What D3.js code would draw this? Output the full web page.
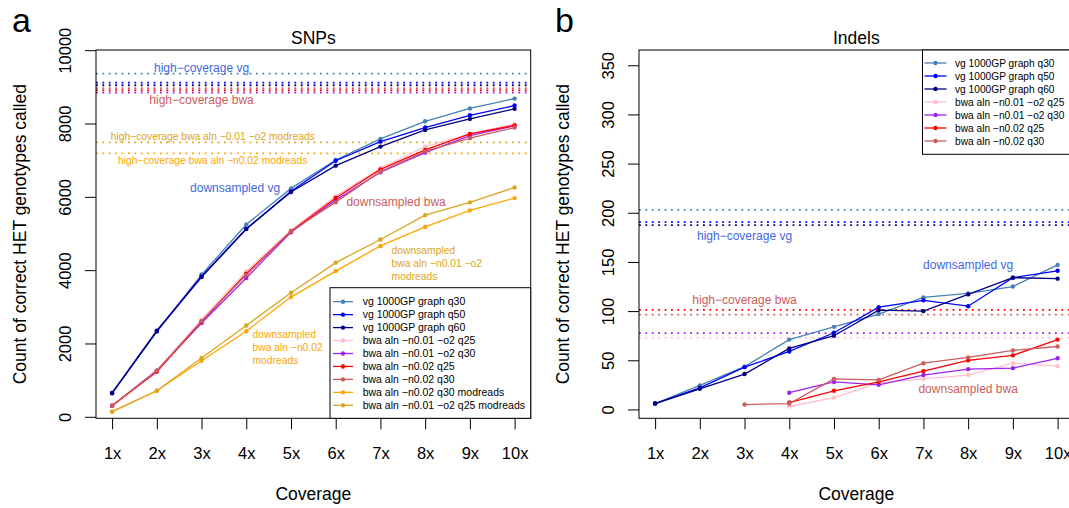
<!DOCTYPE html>
<html>
<head>
<meta charset="utf-8">
<script src="https://cdn.jsdelivr.net/npm/d3@7"></script>
<style>
  body { margin: 0; background: #fff; }
  svg text { font-family: "Liberation Sans", Arial, Helvetica, sans-serif; fill: #000; }
</style>
</head>
<body>
<svg id="chart" width="1069" height="508"></svg>
<script>
// --- DATA ---
const coverage = [1, 2, 3, 4, 5, 6, 7, 8, 9, 10];
const coverageLabels = ["1x", "2x", "3x", "4x", "5x", "6x", "7x", "8x", "9x", "10x"];

const seriesNames = [
  "vg 1000GP graph q30",
  "vg 1000GP graph q50",
  "vg 1000GP graph q60",
  "bwa aln −n0.01 −o2 q25",
  "bwa aln −n0.01 −o2 q30",
  "bwa aln −n0.02 q25",
  "bwa aln −n0.02 q30",
  "bwa aln −n0.02 q30 modreads",
  "bwa aln −n0.01 −o2 q25 modreads"
];

// SNPs, downsampled
const snpVgQ30 = [650, 2320, 3880, 5245, 6230, 7004, 7580, 8060, 8410, 8680];
const snpVgQ50 = [650, 2350, 3830, 5130, 6150, 6985, 7505, 7890, 8225, 8490];
const snpVgQ60 = [640, 2340, 3810, 5120, 6130, 6850, 7370, 7825, 8125, 8400];
const snpBwa01Q25 = [300, 1280, 2650, 3970, 5080, 6020, 6780, 7370, 7720, 7990];
const snpBwa01Q30 = [300, 1260, 2560, 3785, 5035, 5910, 6670, 7205, 7670, 7935];
const snpBwa02Q25 = [300, 1230, 2600, 3905, 5060, 5970, 6750, 7280, 7715, 7950];
const snpBwa02Q30 = [300, 1250, 2610, 3870, 5060, 5850, 6690, 7240, 7600, 7890];
const snpBwa02Q30Mod = [140, 710, 1530, 2335, 3265, 3975, 4660, 5180, 5630, 5965];
const snpBwa01Q25Mod = [140, 710, 1605, 2490, 3385, 4205, 4835, 5500, 5850, 6255];
// SNPs, high coverage (same order as seriesNames)
const snpHighCoverage = [9359, 9114, 9043, 8969, 8841, 8906, 8955, 7188, 7488];

// Indels, downsampled
const indelVgQ30 = [6, 24.5, 43.5, 71, 84, 97, 114, 118, 125, 147];
const indelVgQ50 = [6, 22, 43, 59, 78, 104, 111, 105, 134, 141];
const indelVgQ60 = [6, 21, 36, 62, 75, 101, 100, 117, 134, 133];
const indelBwa01Q25 = [null, null, null, 3, 12, 27, 31, 35, 47, 44];
const indelBwa01Q30 = [null, null, null, 17, 28, 25, 35, 41, 42, 52];
const indelBwa02Q25 = [null, null, null, 7, 19, 28, 39, 50, 55, 71];
const indelBwa02Q30 = [null, null, 5, 6, 31, 30, 47, 53, 60, 64];
// Indels, high coverage
const indelHighCoverage = [203, 190.5, 187.5, 72.9, 77.6, 101.3, 96.5];

const snpTicks = [0, 2000, 4000, 6000, 8000, 10000];
const indelTicks = [0, 50, 100, 150, 200, 250, 300, 350];

// annotations in data units (coverage, count)
const snpNotes = [
  { text: ["high−coverage vg"], cov: 3, count: 9520, kind: "vg" },
  { text: ["high−coverage bwa"], cov: 3, count: 8642, kind: "bwa" },
  { text: ["high−coverage bwa aln −0.01 −o2 modreads"], cov: 3.25, count: 7660, kind: "mod01" },
  { text: ["high−coverage bwa aln −n0.02 modreads"], cov: 3.25, count: 7005, kind: "mod02" },
  { text: ["downsampled vg"], cov: 3.75, count: 6233, kind: "vg" },
  { text: ["downsampled bwa"], cov: 7.35, count: 5868, kind: "bwa" },
  { text: ["downsampled", "bwa aln −n0.01 −o2", "modreads"], cov: 7.25, count: 4187, kind: "mod01", left: true },
  { text: ["downsampled", "bwa aln −n0.02", "modreads"], cov: 4.14, count: 1896, kind: "mod02", left: true }
];
const indelNotes = [
  { text: ["high−coverage vg"], cov: 3, count: 177, kind: "vg" },
  { text: ["downsampled vg"], cov: 8, count: 146.6, kind: "vg" },
  { text: ["high−coverage bwa"], cov: 3, count: 111.3, kind: "bwa" },
  { text: ["downsampled bwa"], cov: 8, count: 21.5, kind: "bwa" }
];

// --- STYLE ---
const seriesColors = ["#4682B4", "#0000FF", "#000080", "#FFC0CB", "#A020F0", "#FF0000", "#CD5C5C", "#FFA500", "#DAA520"];
const noteStyle = {
  vg: { color: "#4169E1", size: 12 },
  bwa: { color: "#CD5C5C", size: 12 },
  mod01: { color: "#DAA520", size: 10.3 },
  mod02: { color: "#FFA500", size: 10.3 }
};
const tickFont = 16.5, titleFont = 17.5;
const boxTop = 50, boxBottom = 418.3, boxWidth = 434.7;

const svg = d3.select("#chart");

function drawPanel(p) {
  const x = d3.scaleLinear().domain([0.64, 10.36]).range([p.left, p.left + boxWidth]);
  const y = d3.scaleLinear().domain(p.yDomain).range([boxBottom, boxTop]);
  const g = svg.append("g");
  const [x0, x1] = x.range();

  // high-coverage reference lines
  g.selectAll(".hc").data(p.high).enter().append("line")
    .attr("x1", x0).attr("x2", x1)
    .attr("y1", d => y(d)).attr("y2", d => y(d))
    .attr("stroke", (d, i) => seriesColors[i])
    .attr("stroke-width", 1.8)
    .attr("stroke-dasharray", "1.8 4.6");

  // downsampled series
  const line = d3.line()
    .defined(d => d != null)
    .x((d, i) => x(coverage[i]))
    .y(d => y(d));
  p.series.forEach((vals, si) => {
    g.append("path").attr("d", line(vals))
      .attr("fill", "none").attr("stroke", seriesColors[si]).attr("stroke-width", 1.3);
    g.selectAll(null).data(vals.map((v, i) => [coverage[i], v]).filter(d => d[1] != null))
      .enter().append("circle")
      .attr("cx", d => x(d[0])).attr("cy", d => y(d[1])).attr("r", 2.2)
      .attr("fill", seriesColors[si]);
  });

  // annotations
  p.notes.forEach(n => {
    const st = noteStyle[n.kind];
    const lh = 13;
    const t = g.append("text")
      .attr("font-size", st.size)
      .style("fill", st.color)
      .attr("text-anchor", n.left ? "start" : "middle");
    n.text.forEach((s, i) => {
      t.append("tspan")
        .attr("x", x(n.cov))
        .attr("y", y(n.count) + (i - (n.text.length - 1) / 2) * lh)
        .attr("dy", "0.35em")
        .text(s);
    });
  });

  // box
  g.append("rect").attr("x", x0).attr("y", boxTop)
    .attr("width", x1 - x0).attr("height", boxBottom - boxTop)
    .attr("fill", "none").attr("stroke", "#000").attr("stroke-width", 1);

  // x axis
  const xAxis = d3.axisBottom(x).tickValues(coverage)
    .tickFormat((d, i) => coverageLabels[i]).tickSize(11).tickPadding(18).tickSizeOuter(0);
  const gx = g.append("g").attr("transform", `translate(0,${boxBottom})`).call(xAxis);
  gx.select(".domain").remove();
  gx.selectAll("text").attr("font-size", tickFont).style("font-family", null);

  // y axis (rotated labels like R)
  const yAxis = d3.axisLeft(y).tickValues(p.ticks).tickFormat(d3.format("d"))
    .tickSize(11).tickSizeOuter(0);
  const gy = g.append("g").attr("transform", `translate(${x0},0)`).call(yAxis);
  gy.select(".domain").remove();
  gy.selectAll("text")
    .attr("font-size", tickFont)
    .attr("transform", "rotate(-90)")
    .attr("x", 0).attr("y", -25.5).attr("dy", 0)
    .attr("text-anchor", "middle");
  svg.selectAll(".tick line").attr("stroke", "#000");

  // titles
  g.append("text").attr("x", (x0 + x1) / 2).attr("y", 44)
    .attr("text-anchor", "middle").attr("font-size", titleFont).text(p.title);
  g.append("text").attr("x", (x0 + x1) / 2).attr("y", 500)
    .attr("text-anchor", "middle").attr("font-size", titleFont).text("Coverage");
  g.append("text")
    .attr("transform", `translate(${x0 - 70},${(boxTop + boxBottom) / 2}) rotate(-90)`)
    .attr("text-anchor", "middle").attr("font-size", titleFont)
    .text("Count of correct HET genotypes called");
  g.append("text").attr("x", p.letterX).attr("y", 32)
    .attr("font-size", 34).text(p.letter);

  // legend
  const L = p.legend;
  const n = p.series.length;
  g.append("rect").attr("x", L.x).attr("y", L.y)
    .attr("width", x1 - L.x).attr("height", L.h)
    .attr("fill", "#fff").attr("stroke", "#000").attr("stroke-width", 1);
  for (let i = 0; i < n; i++) {
    const ry = L.y + L.first + i * L.step;
    g.append("line").attr("x1", L.x + L.seg[0]).attr("x2", L.x + L.seg[1])
      .attr("y1", ry).attr("y2", ry).attr("stroke", seriesColors[i]).attr("stroke-width", 1.3);
    g.append("circle").attr("cx", L.x + (L.seg[0] + L.seg[1]) / 2).attr("cy", ry)
      .attr("r", 2.2).attr("fill", seriesColors[i]);
    g.append("text").attr("x", L.x + L.textX).attr("y", ry).attr("dy", "0.35em")
      .attr("font-size", L.font).text(seriesNames[i]);
  }
}

drawPanel({
  left: 96, yDomain: [-41, 10005], ticks: snpTicks, title: "SNPs", letter: "a", letterX: 12,
  series: [snpVgQ30, snpVgQ50, snpVgQ60, snpBwa01Q25, snpBwa01Q30, snpBwa02Q25, snpBwa02Q30, snpBwa02Q30Mod, snpBwa01Q25Mod],
  high: snpHighCoverage, notes: snpNotes,
  legend: { x: 330, y: 287.7, h: 130.6, first: 14, step: 12.95, seg: [3, 23], textX: 32.7, font: 10.5 }
});

drawPanel({
  left: 639, yDomain: [-9, 365.5], ticks: indelTicks, title: "Indels", letter: "b", letterX: 555,
  series: [indelVgQ30, indelVgQ50, indelVgQ60, indelBwa01Q25, indelBwa01Q30, indelBwa02Q25, indelBwa02Q30],
  high: indelHighCoverage, notes: indelNotes,
  legend: { x: 922.5, y: 50, h: 104.3, first: 13, step: 13, seg: [2, 24], textX: 32.5, font: 10.2 }
});
</script>
</body>
</html>
